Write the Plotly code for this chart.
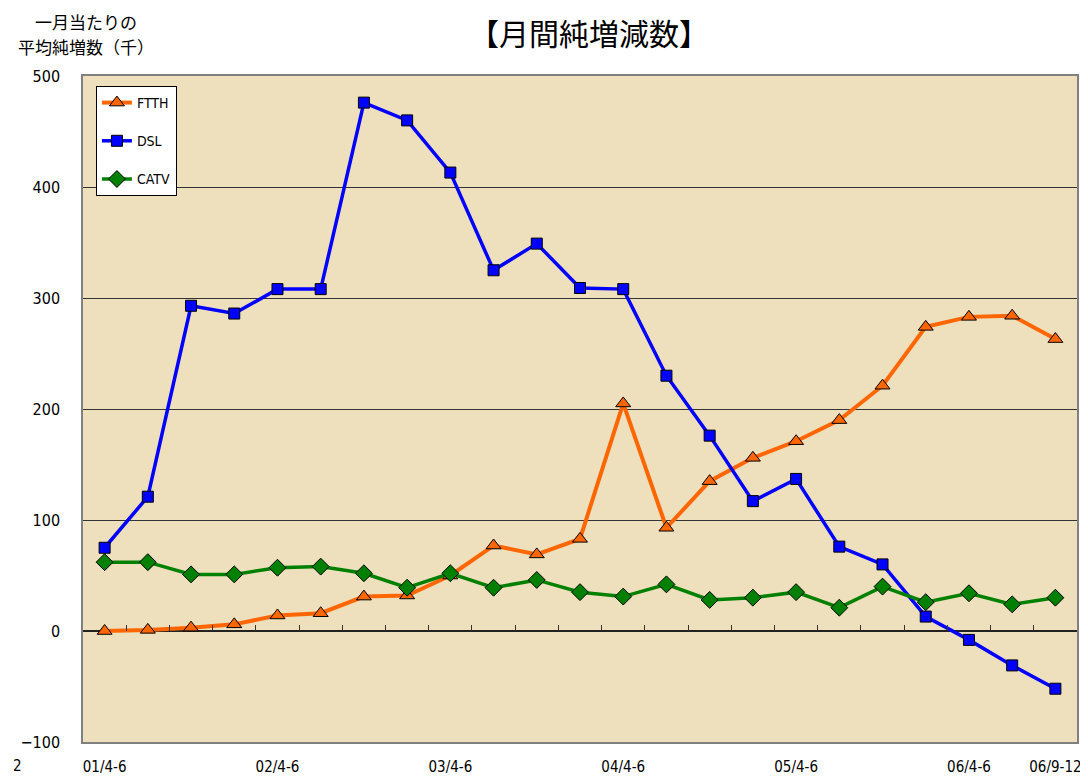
import plotly.graph_objects as go

# quarters, 01/4-6 .. 06/10-12 (last label as printed on the chart)
quarters = [
    "01/4-6", "01/7-9", "01/10-12", "02/1-3",
    "02/4-6", "02/7-9", "02/10-12", "03/1-3",
    "03/4-6", "03/7-9", "03/10-12", "04/1-3",
    "04/4-6", "04/7-9", "04/10-12", "05/1-3",
    "05/4-6", "05/7-9", "05/10-12", "06/1-3",
    "06/4-6", "06/7-9", "06/9-12",
]
shown_labels = ["01/4-6", "02/4-6", "03/4-6", "04/4-6", "05/4-6", "06/4-6", "06/9-12"]

ftth = [0, 1, 3, 6, 14, 16, 31, 32, 50, 77, 69, 83, 205, 93, 135, 156,
        171, 190, 221, 274, 283, 284, 263]
dsl = [75, 121, 293, 286, 308, 308, 476, 460, 413, 325, 349, 309, 308,
       230, 176, 117, 137, 76, 60, 13, -8, -31, -52]
catv = [62, 62, 51, 51, 57, 58, 52, 39, 52, 39, 46, 35, 31, 42, 28, 30,
        35, 21, 40, 26, 34, 24, 30]

y_ticks = [-100, 0, 100, 200, 300, 400, 500]

narrow = "DejaVu Sans Condensed, Liberation Sans Narrow, Liberation Sans, sans-serif"
jp = "Noto Sans CJK JP, sans-serif"

fig = go.Figure()

fig.add_trace(go.Scatter(
    x=quarters, y=ftth, name="FTTH", mode="lines+markers",
    line=dict(color="#FF6600", width=4),
    marker=dict(symbol="triangle-up", size=13, color="#FF6600",
                line=dict(color="black", width=1)),
    legendgroup="a",
))
fig.add_trace(go.Scatter(
    x=quarters, y=dsl, name="DSL", mode="lines+markers",
    line=dict(color="#0000FF", width=3.5),
    marker=dict(symbol="square", size=11, color="#0000FF",
                line=dict(color="black", width=1)),
    legendgroup="b",
))
fig.add_trace(go.Scatter(
    x=quarters, y=catv, name="CATV", mode="lines+markers",
    line=dict(color="#008000", width=3.5),
    marker=dict(symbol="diamond", size=13, color="#008000",
                line=dict(color="black", width=1)),
    legendgroup="c",
))
# invisible trace so the zero-line tick axis has the categories
fig.add_trace(go.Scatter(
    x=quarters, y=catv, xaxis="x2", mode="lines",
    opacity=0, showlegend=False, hoverinfo="skip",
))

# the page body adds 8px, so the figure is a bit smaller and margins shifted
fig.update_layout(
    width=1080, height=768,
    margin=dict(l=75, r=11, t=68, b=34),
    paper_bgcolor="white",
    plot_bgcolor="#EEE0BD",
    showlegend=True,
    title=dict(
        text="【月間純増減数】", x=0.538, xanchor="center",
        y=0.966, yanchor="middle",
        font=dict(family=jp, size=30, color="black"),
    ),
    legend=dict(
        x=0.013, y=0.985, xanchor="left", yanchor="top",
        bgcolor="white", bordercolor="black", borderwidth=1,
        font=dict(family=narrow, size=14, color="black"),
        traceorder="grouped", tracegroupgap=17,
        itemwidth=30,
    ),
    xaxis=dict(
        type="category", categoryorder="array", categoryarray=quarters,
        range=[-0.5, len(quarters) - 0.5],
        tickvals=shown_labels, ticktext=shown_labels,
        ticks="", showgrid=False, zeroline=False, automargin=False,
        showline=True, linecolor="#808080", linewidth=1.5, mirror=True,
        tickfont=dict(family=narrow, size=15, color="black"),
        ticklabelstandoff=10,
    ),
    xaxis2=dict(
        type="category", overlaying="x", matches="x",
        anchor="free", position=(0 - y_ticks[0]) / (y_ticks[-1] - y_ticks[0]),
        side="bottom", automargin=False,
        showticklabels=False, ticks="inside", tickson="boundaries",
        ticklen=6, tickcolor="#333333", tickwidth=1,
        showgrid=False, zeroline=False, showline=False,
    ),
    yaxis=dict(
        range=[y_ticks[0], y_ticks[-1]], tickvals=y_ticks, automargin=False,
        showgrid=True, gridcolor="#333333", gridwidth=1,
        zeroline=True, zerolinecolor="#222222", zerolinewidth=1.5,
        showline=True, linecolor="#808080", linewidth=1.5, mirror=True,
        ticks="", ticklabelstandoff=18,
        tickfont=dict(family=narrow, size=16, color="black"),
    ),
)

fig.add_annotation(
    text="一月当たりの", xref="paper", yref="paper",
    x=0.003, y=1.0, xanchor="center", yanchor="middle", yshift=55,
    showarrow=False, font=dict(family=jp, size=17, color="black"),
)
fig.add_annotation(
    text="平均純増数（千）", xref="paper", yref="paper",
    x=0.003, y=1.0, xanchor="center", yanchor="middle", yshift=30,
    showarrow=False, font=dict(family=jp, size=17, color="black"),
)
fig.add_annotation(
    text="2", xref="paper", yref="paper", x=-0.072, y=0, yshift=-24,
    xanchor="left", yanchor="middle", showarrow=False,
    font=dict(family=narrow, size=15, color="black"),
)

fig.write_html("out.html")
